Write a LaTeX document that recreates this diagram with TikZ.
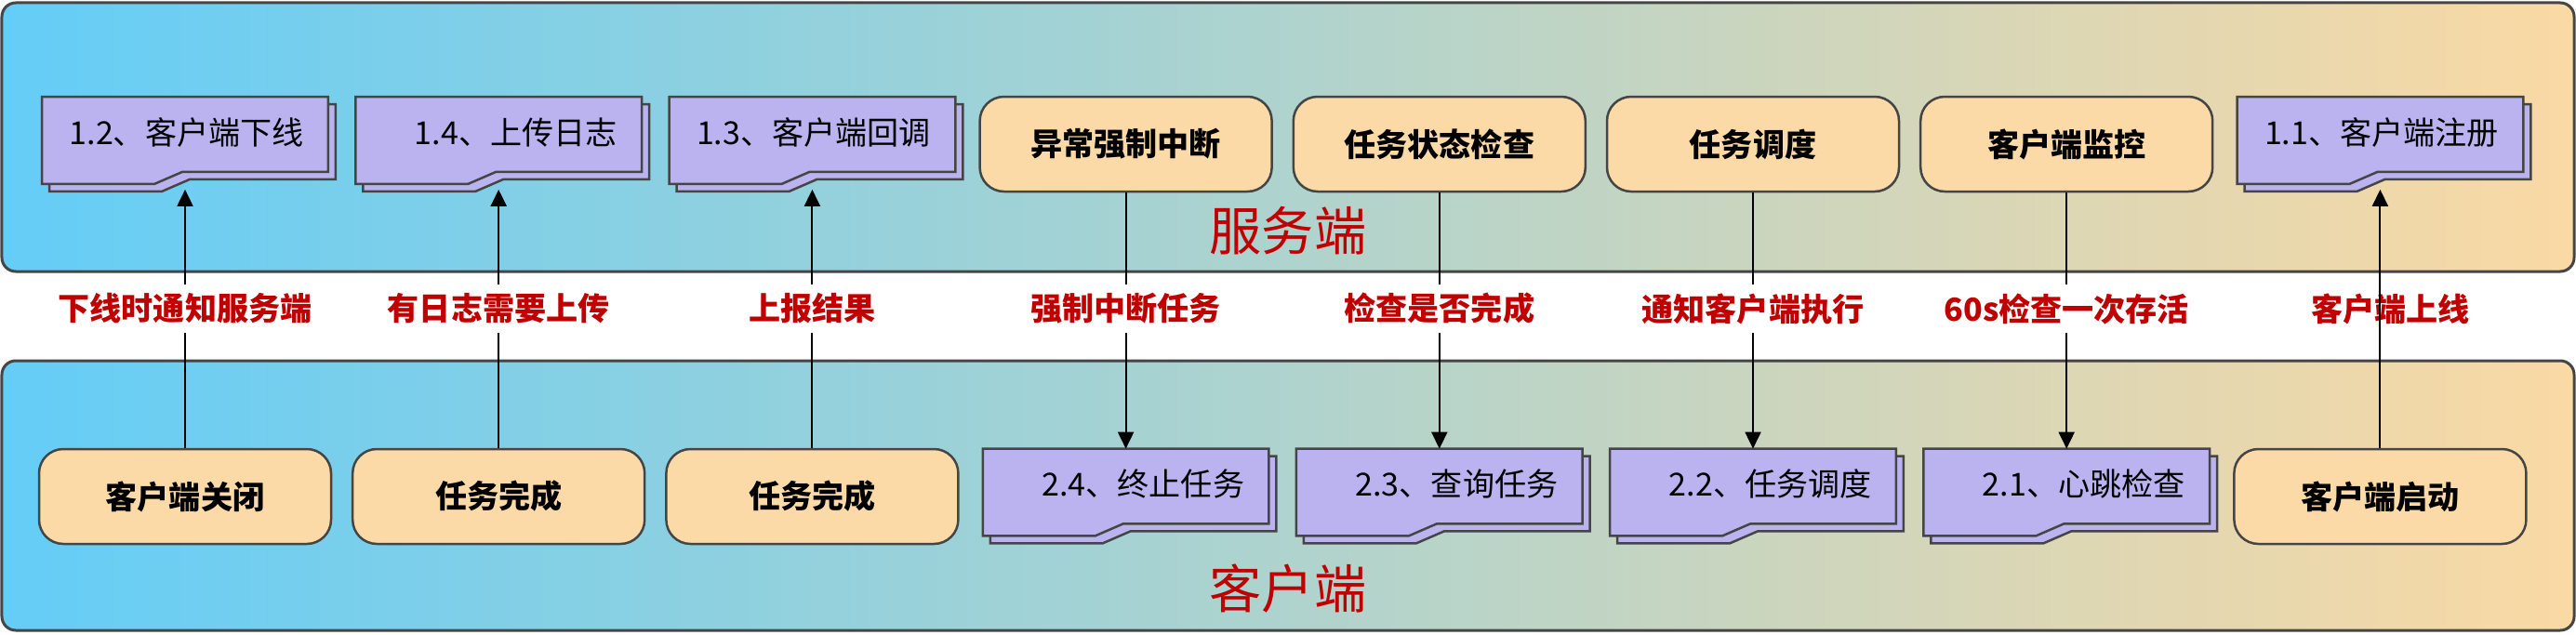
\documentclass[tikz,border=0pt]{standalone}
\usepackage{fontspec}
\setmainfont{Noto Sans CJK SC}
\usepackage{tikz}
\usetikzlibrary{calc,backgrounds,arrows.meta}

\definecolor{panelL}{HTML}{64CDF7}
\definecolor{panelR}{HTML}{FAD9A4}
\definecolor{stepfill}{HTML}{FCDAA7}
\definecolor{docfill}{HTML}{BBB3F0}
\definecolor{linegray}{HTML}{454545}
\definecolor{hintred}{HTML}{C00000}

\newcommand{\boxfont}{\fontsize{19.4}{23}\selectfont}
\newcommand{\sidefont}{\fontsize{32}{38}\selectfont}

% document shape with its shadow, drawn behind the node text
\newcommand{\docshape}[1]{%
  \begin{scope}[on background layer]
    \foreach \s in {0.16,0}
      \draw[docline] ([shift={(\s,-\s)}]#1.north west)
        -- ([shift={(\s,-\s)}]#1.north east)
        -- ([shift={(\s,0.26-\s)}]#1.south east)
        -- ([shift={(3.02+\s,0.26-\s)}]#1.south west)
        -- ([shift={(2.42+\s,-\s)}]#1.south west)
        -- ([shift={(\s,-\s)}]#1.south west) -- cycle;
  \end{scope}}

\begin{document}
\begin{tikzpicture}[
  panel/.style={draw=linegray,line width=0.06cm,rounded corners=0.3cm,left color=panelL,right color=panelR},
  stepbox/.style={draw=linegray,line width=0.05cm,fill=stepfill,rounded corners=0.52cm,minimum width=6.28cm,minimum height=2.04cm,font=\boxfont\bfseries},
  docbox/.style={inner sep=0pt,minimum width=6.14cm,minimum height=1.86cm,text width=5.1cm,align=right,text height=0.58cm,text depth=0.42cm,font=\boxfont},
  docline/.style={draw=linegray,line width=0.05cm,fill=docfill},
  hint/.style={text=hintred,font=\boxfont\bfseries,inner sep=0.18cm},
  side/.style={text=hintred,font=\sidefont},
  wire/.style={line width=0.04cm},
  arr/.style={line width=0.04cm,-{Triangle[length=0.36cm,width=0.34cm]}}]
	\useasboundingbox (0,0) rectangle (55.4,13.64);
	\begin{scope}[on background layer]
	\draw[panel] (0.04,7.8) rectangle (55.36,13.58);
	\draw[panel] (0.04,0.08) rectangle (55.36,5.88);
	\end{scope}
	\node(srv)[side] at (27.7,8.68) {服务端};
	\node(cli)[side] at (27.7,0.98) {客户端};
	% server side
	\node(t1)[docbox] at (3.98,10.62) {1.2、客户端下线};
	\node(t2)[docbox] at (10.724,10.62) {1.4、上传日志};
	\node(t3)[docbox] at (17.468,10.62) {1.3、客户端回调};
	\node(t4)[stepbox] at (24.212,10.54) {异常强制中断};
	\node(t5)[stepbox] at (30.956,10.54) {任务状态检查};
	\node(t6)[stepbox] at (37.7,10.54) {任务调度};
	\node(t7)[stepbox] at (44.444,10.54) {客户端监控};
	\node(t8)[docbox] at (51.188,10.62) {1.1、客户端注册};
	% client side
	\node(b1)[stepbox] at (3.98,2.96) {客户端关闭};
	\node(b2)[stepbox] at (10.724,2.96) {任务完成};
	\node(b3)[stepbox] at (17.468,2.96) {任务完成};
	\node(b4)[docbox] at (24.212,3.05) {2.4、终止任务};
	\node(b5)[docbox] at (30.956,3.05) {2.3、查询任务};
	\node(b6)[docbox] at (37.7,3.05) {2.2、任务调度};
	\node(b7)[docbox] at (44.444,3.05) {2.1、心跳检查};
	\node(b8)[stepbox] at (51.188,2.96) {客户端启动};
	\docshape{t1} \docshape{t2} \docshape{t3} \docshape{t8}
	\docshape{b4} \docshape{b5} \docshape{b6} \docshape{b7}
	% messages
	\node(l1)[hint] at (3.98,7) {下线时通知服务端};
	\node(l2)[hint] at (10.724,7) {有日志需要上传};
	\node(l3)[hint] at (17.468,7) {上报结果};
	\node(l4)[hint] at (24.212,7) {强制中断任务};
	\node(l5)[hint] at (30.956,7) {检查是否完成};
	\node(l6)[hint] at (37.7,7) {通知客户端执行};
	\node(l7)[hint] at (44.444,7) {60s检查一次存活};
	\node(l8)[hint] at (51.41,7) {客户端上线};
	\draw[wire] (b1) -- (l1);
	\draw[arr] (l1) -- ([yshift=-0.12cm]t1.south);
	\draw[wire] (b2) -- (l2);
	\draw[arr] (l2) -- ([yshift=-0.12cm]t2.south);
	\draw[wire] (b3) -- (l3);
	\draw[arr] (l3) -- ([yshift=-0.12cm]t3.south);
	\draw[wire] (t4) -- (l4);
	\draw[arr] (l4) -- (b4);
	\draw[wire] (t5) -- (l5);
	\draw[arr] (l5) -- (b5);
	\draw[wire] (t6) -- (l6);
	\draw[arr] (l6) -- (b6);
	\draw[wire] (t7) -- (l7);
	\draw[arr] (l7) -- (b7);
	\draw[arr] (b8) -- ([yshift=-0.12cm]t8.south);
\end{tikzpicture}
\end{document}
